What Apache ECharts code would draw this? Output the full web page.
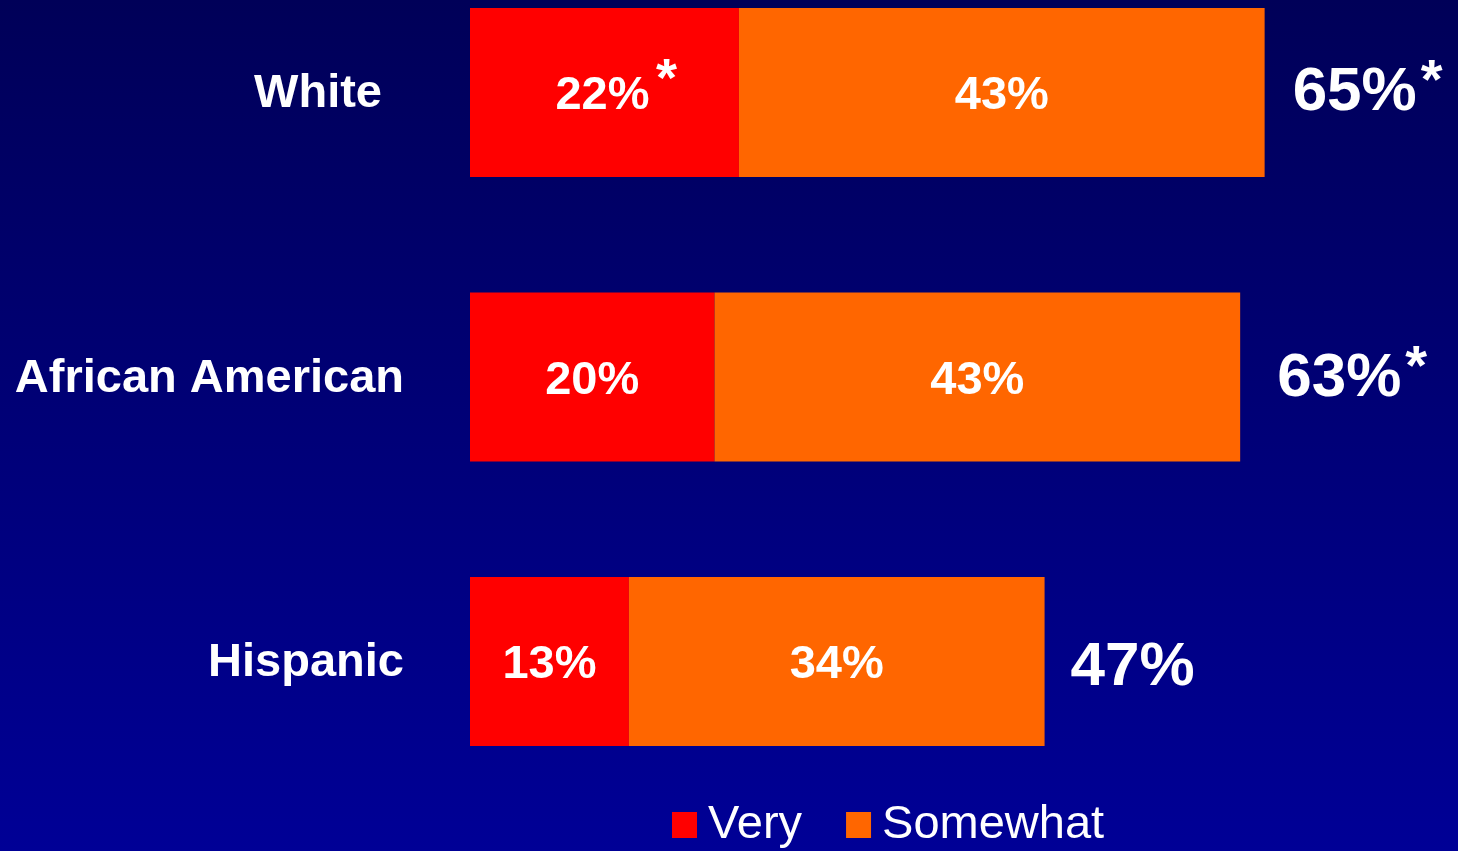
<!DOCTYPE html>
<html>
<head>
<meta charset="utf-8">
<style>
  html, body { margin: 0; padding: 0; background: #000070; }
  #chart { width: 1458px; height: 851px; }
</style>
<script src="https://cdn.jsdelivr.net/npm/echarts@6/dist/echarts.min.js"></script>
</head>
<body>
<div id="chart"></div>
<script>
// Share who rated it "very" / "somewhat", by group
const categories = ['White', 'African American', 'Hispanic'];
const veryValues = [22, 20, 13];
const somewhatValues = [43, 43, 34];
const totalValues = [65, 63, 47];
// significance markers (*)
const veryStar = [true, false, false];
const totalStar = [true, true, false];

// fine placement of the total labels beside each bar
const totalLabelGap = [28, 37, 26];
const totalLabelShift = [0, 2, 6];

const FONT = "'Liberation Sans', Arial, Helvetica, sans-serif";

const chart = echarts.init(document.getElementById('chart'));

chart.setOption({
  backgroundColor: new echarts.graphic.LinearGradient(0, 0, 0, 1, [
    { offset: 0, color: '#000058' },
    { offset: 1, color: '#000096' }
  ]),
  animation: false,
  legend: {
    data: ['Very', 'Somewhat'],
    left: 667,
    top: 794,
    itemWidth: 25,
    itemHeight: 26,
    itemGap: 44,
    icon: 'rect',
    textStyle: {
      color: '#ffffff',
      fontFamily: FONT,
      fontSize: 47,
      lineHeight: 52,
      padding: [0, 0, 0, 6]
    }
  },
  // categories sit on ticks (no boundary gap): first row centre at top, last at bottom
  grid: {
    left: 470,
    top: 92.5,
    width: 978,
    height: 569,
    containLabel: false
  },
  xAxis: {
    type: 'value',
    min: 0,
    max: 80,
    show: false
  },
  yAxis: {
    type: 'category',
    data: categories,
    inverse: true,
    boundaryGap: false,
    axisLine: { show: false },
    axisTick: { show: false },
    splitLine: { show: false },
    axisLabel: {
      color: '#ffffff',
      fontFamily: FONT,
      fontSize: 47,
      fontWeight: 'bold',
      margin: 66,
      padding: [4, 0, 0, 0],
      formatter: function (v) {
        return v === 'White' ? '{w|' + v + '}' : v;
      },
      rich: {
        w: {
          color: '#ffffff',
          fontFamily: FONT,
          fontSize: 47,
          fontWeight: 'bold',
          padding: [0, 22, 0, 0]
        }
      }
    }
  },
  series: [
    {
      name: 'Very',
      type: 'bar',
      stack: 'share',
      barWidth: 169,
      data: veryValues,
      itemStyle: { color: '#ff0000' },
      label: {
        show: true,
        position: 'inside',
        offset: [0, 4],
        formatter: function (p) {
          return veryStar[p.dataIndex]
            ? '{pad|}{v|' + p.value + '%}{s|*}'
            : '{v|' + p.value + '%}';
        },
        rich: {
          v: { color: '#fff', fontFamily: FONT, fontSize: 47, fontWeight: 'bold', lineHeight: 84 },
          pad: { width: 26 },
          s: { color: '#fff', fontFamily: FONT, fontSize: 54, fontWeight: 'bold', verticalAlign: 'top', lineHeight: 30, width: 26, padding: [0, 0, 0, 4] }
        }
      }
    },
    {
      name: 'Somewhat',
      type: 'bar',
      stack: 'share',
      barWidth: 169,
      data: somewhatValues,
      itemStyle: { color: '#ff6600' },
      label: {
        show: true,
        position: 'inside',
        offset: [0, 4],
        color: '#fff',
        fontFamily: FONT,
        fontSize: 47,
        fontWeight: 'bold',
        formatter: '{c}%'
      }
    },
    {
      name: 'Total',
      type: 'bar',
      barWidth: 169,
      barGap: '-100%',
      data: totalValues.map(function (v, i) {
        return {
          value: v,
          label: { distance: totalLabelGap[i], offset: [0, totalLabelShift[i]] }
        };
      }),
      itemStyle: { color: 'rgba(0,0,0,0)' },
      silent: true,
      z: 1,
      label: {
        show: true,
        position: 'right',
        formatter: function (p) {
          return totalStar[p.dataIndex]
            ? '{v|' + p.value + '%}{s|*}'
            : '{v|' + p.value + '%}';
        },
        rich: {
          v: { color: '#fff', fontFamily: FONT, fontSize: 62, fontWeight: 'bold', lineHeight: 76 },
          s: { color: '#fff', fontFamily: FONT, fontSize: 56, fontWeight: 'bold', verticalAlign: 'top', lineHeight: 36, padding: [0, 0, 0, 4] }
        }
      }
    }
  ]
});
</script>
</body>
</html>
